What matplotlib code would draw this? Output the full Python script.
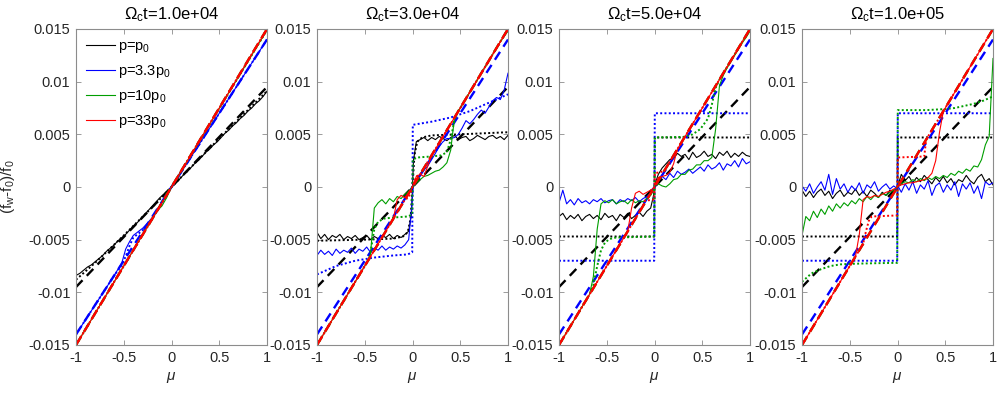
import matplotlib
matplotlib.use("Agg")
import matplotlib.pyplot as plt

plt.rcParams['font.family'] = ['Liberation Sans', 'DejaVu Sans']
plt.rcParams['mathtext.fontset'] = 'custom'
plt.rcParams['mathtext.rm'] = 'Liberation Sans'
plt.rcParams['mathtext.it'] = 'Liberation Sans:italic'

# all values in units of 1e-3
titles = ['1.0e+04', '3.0e+04', '5.0e+04', '1.0e+05']
labels = ['p=p$_0$', 'p=3.3p$_0$', 'p=10p$_0$', 'p=33p$_0$']
colors = ['k', 'b', (0, 0.62, 0), 'r']

mu_g = [-1.00, -0.96, -0.92, -0.88, -0.84, -0.80, -0.76, -0.72, -0.68, -0.64, -0.60, -0.56, -0.52,
        -0.48, -0.44, -0.40, -0.36, -0.32, -0.28, -0.24, -0.20, -0.16, -0.12, -0.08, -0.04, -0.01,
        0.01, 0.04, 0.08, 0.12, 0.16, 0.20, 0.24, 0.28, 0.32, 0.36, 0.40, 0.44, 0.48, 0.52,
        0.56, 0.60, 0.64, 0.68, 0.72, 0.76, 0.80, 0.84, 0.88, 0.92, 0.96, 1.00]
mu_step = [-1, -0.003, 0.003, 1]

# dashed reference lines (same in every panel)
mu_dash = [-1, 1]
dash_black = [-9.5, 9.5]
dash_blue = [-14.0, 14.0]
dash_green = [-15.0, 15.0]
dash_red = [-15.0, 15.0]

# ---- panel 1 : t = 1e4
t1_black = [-8.4, -8.2, -7.9, -7.6, -7.4, -7.1, -6.8, -6.5, -6.1, -5.8, -5.5, -5.1, -4.8,
            -4.5, -4.1, -3.7, -3.4, -3.0, -2.6, -2.2, -1.8, -1.4, -1.0, -0.7, -0.35, -0.1,
            0.1, 0.35, 0.7, 1.1, 1.4, 1.8, 2.2, 2.5, 2.9, 3.3, 3.6, 4.0, 4.3,
            4.7, 5.1, 5.4, 5.8, 6.1, 6.5, 6.8, 7.2, 7.5, 7.9, 8.2, 8.6, 9.1]
mu_t1_blue = [-1, -0.6, -0.52, -0.48, -0.44, -0.4, -0.3, -0.2, -0.1, 0, 1]
t1_blue = [-14.0, -8.4, -7.2, -5.9, -5.2, -4.6, -3.9, -2.9, -1.4, 0, 14.0]
mu_t1_green = [-1, -0.15, -0.1, -0.05, 0, 1]
t1_green = [-15.0, -2.25, -1.8, -1.0, 0, 14.9]
t1_red = [-15.0, 15.0]
mu_t1_black_dot = [-1, -0.8, -0.5, -0.2, 0, 0.5, 1]
t1_black_dot = [-8.8, -7.2, -4.6, -1.9, 0, 4.6, 9.1]
t1_blue_dot = [-14.0, -8.4, -7.4, -6.6, -5.6, -4.8, -4.1, -3.0, -1.5, 0, 14.0]
mu_t1_green_dot = [-1, -0.1, -0.05, 0, 1]
t1_green_dot = [-15.0, -1.5, -0.6, 0, 14.9]
t1_red_dot = [-15.0, 15.0]

# ---- panel 2 : t = 3e4
t2_black = [-4.3, -4.9, -4.5, -5.0, -4.6, -4.8, -4.5, -5.0, -4.7, -4.9, -4.6, -5.0, -4.8,
            -4.6, -5.0, -4.7, -4.9, -4.6, -4.8, -4.5, -4.9, -4.6, -4.8, -4.5, -4.2, -2.5,
            2.5, 4.3, 4.5, 4.7, 4.4, 4.7, 4.5, 4.8, 4.6, 4.4, 4.7, 4.9, 4.5,
            4.7, 4.8, 4.4, 4.6, 4.9, 4.7, 4.5, 4.8, 4.9, 4.6, 4.8, 4.5, 4.9]
t2_blue = [-6.5, -6.0, -6.4, -6.1, -6.5, -5.9, -6.3, -6.0, -6.2, -5.8, -6.3, -5.9, -6.1,
           -5.7, -6.2, -5.8, -6.0, -5.6, -6.0, -5.7, -5.9, -5.6, -5.8, -5.5, -5.0, -2.0,
           0.2, 0.6, 1.2, 1.6, 2.0, 2.6, 3.2, 3.9, 4.3, 4.6, 4.6, 4.7, 5.0,
           5.6, 6.3, 6.0, 6.4, 6.9, 7.3, 7.0, 7.6, 8.2, 8.5, 8.3, 9.2, 10.8]
t2_green = [-15.0, -14.4, -13.8, -13.2, -12.6, -12.0, -11.4, -10.8, -10.2, -9.6, -9.0, -8.4, -7.8,
            -7.2, -6.4, -2.0, -1.5, -1.2, -1.6, -1.1, -1.4, -0.9, -1.1, -0.7, -0.4, -0.1,
            0.1, 0.4, 0.7, 1.0, 1.1, 1.3, 1.5, 1.6, 1.9, 2.3, 3.5, 6.6, 7.2,
            7.8, 8.4, 9.0, 9.6, 10.2, 10.8, 11.4, 12.0, 12.6, 13.2, 13.8, 14.3, 14.8]
mu_t2_red = [-1, -0.2, -0.16, -0.12, -0.08, -0.04, -0.01, 0.01, 0.04, 0.08, 0.12, 0.16, 0.2, 1]
t2_red = [-15.0, -3.0, -1.2, -0.8, -1.0, -0.6, -0.2, 0.3, 1.0, 1.2, 1.0, 2.0, 3.0, 15.0]
mu_t2_black_dot = [-1, -0.5, -0.2, -0.1, -0.05, -0.02, 0, 0.02, 0.05, 0.1, 0.2, 0.5, 1]
t2_black_dot = [-5.1, -5.0, -4.9, -4.7, -4.3, -3.0, 0, 3.0, 4.3, 4.7, 4.9, 5.0, 5.2]
mu_t2_blue_dot = [-1, -0.8, -0.6, -0.4, -0.2, -0.05, -0.003, 0.003, 0.2, 0.4, 0.6, 0.8, 1]
t2_blue_dot = [-8.3, -7.5, -7.0, -6.7, -6.5, -6.4, -6.2, 5.9, 6.2, 6.6, 7.2, 8.0, 8.8]
mu_t2_green_dot = [-1, -0.45, -0.4, -0.36, -0.3, -0.2, -0.05, -0.003, 0.003, 0.05, 0.2, 0.3,
                   0.36, 0.4, 0.44, 0.48, 1]
t2_green_dot = [-15.0, -6.75, -4.0, -3.3, -3.0, -2.9, -2.8, -2.6, 2.6, 2.8, 2.9, 3.0,
                3.3, 4.5, 6.4, 7.2, 15.0]
mu_t2_red_dot = [-1, -0.12, -0.08, -0.04, 0, 0.04, 0.08, 0.12, 1]
t2_red_dot = [-15.0, -1.8, -1.2, -1.0, 0, 1.0, 1.2, 1.8, 15.0]

# ---- panel 3 : t = 5e4
t3_black = [-2.8, -2.5, -3.1, -2.7, -3.0, -2.6, -3.2, -2.8, -2.6, -3.0, -2.7, -3.1, -2.5,
            -2.9, -2.7, -3.2, -2.6, -2.9, -2.5, -3.0, -2.7, -2.4, -2.8, -2.3, -2.0, -0.8,
            0.4, 1.2, 1.8, 2.2, 2.6, 2.7, 3.2, 2.9, 3.1, 2.6, 3.3, 2.8, 3.0,
            3.4, 2.9, 3.1, 2.7, 3.3, 3.0, 3.4, 2.8, 3.2, 2.9, 3.3, 3.0, 2.9]
t3_blue = [-1.5, -0.3, -1.6, -1.2, -1.7, -1.1, -1.5, -1.3, -1.6, -1.2, -1.4, -1.1, -1.5,
           -1.3, -1.2, -1.6, -1.2, -1.4, -1.1, -1.3, -1.0, -1.4, -1.1, -0.9, -0.6, -0.2,
           0.2, 0.6, 1.0, 0.7, 1.3, 0.9, 1.5, 1.2, 1.4, 1.7, 1.3, 1.6, 1.9,
           1.5, 2.1, 1.7, 1.9, 2.3, 1.6, 2.2, 2.0, 2.5, 1.9, 2.7, 2.2, 2.4]
t3_green = [-15.0, -14.4, -13.8, -13.2, -12.6, -12.0, -11.4, -10.8, -10.2, -8.5, -4.0, -1.6, -1.3,
            -1.5, -1.2, -1.6, -1.4, -1.3, -1.6, -1.2, -1.5, -1.3, -1.4, -1.1, -0.8, -0.3,
            0.2, 0.3, 0.1, 0.0, 0.3, 0.7, 0.8, 1.2, 1.2, 1.6, 1.7, 2.1, 2.1,
            2.5, 2.5, 2.8, 5.5, 9.6, 10.6, 11.3, 11.9, 12.5, 13.1, 13.7, 14.2, 14.8]
mu_t3_red = [-1, -0.28, -0.24, -0.2, -0.16, -0.12, -0.08, -0.04, -0.01, 0.01, 0.04, 0.08,
             0.12, 0.16, 0.2, 0.24, 1]
t3_red = [-15.0, -4.2, -2.0, -0.6, -0.4, -0.7, -0.5, -0.3, -0.1, 0.3, 0.9, 1.0,
          1.1, 1.4, 2.2, 3.6, 15.0]
t3_black_dot = [-4.7, -4.7, 4.7, 4.7]
t3_blue_dot = [-7.0, -7.0, 7.0, 7.0]
mu_t3_green_dot = [-1, -0.68, -0.64, -0.6, -0.56, -0.52, -0.48, -0.44, -0.4, -0.003, 0.003,
                   0.3, 0.4, 0.48, 0.56, 0.6, 0.64, 0.68, 1]
t3_green_dot = [-15.0, -10.2, -9.3, -7.5, -6.0, -5.3, -5.0, -4.85, -4.8, -4.7, 4.7,
                4.75, 5.0, 5.5, 6.5, 7.8, 9.4, 10.2, 15.0]
mu_t3_red_dot = [-1, -0.12, -0.1, -0.003, 0.003, 0.1, 0.12, 1]
t3_red_dot = [-15.0, -1.8, -1.3, -1.2, 1.3, 1.5, 1.8, 15.0]

# ---- panel 4 : t = 1e5
t4_black = [-0.3, -0.9, -0.4, -1.0, -0.5, -0.2, -0.8, -0.4, -1.1, -0.6, -0.3, -0.9, -0.5,
            -0.7, -0.2, -0.8, -0.4, -0.9, -0.3, -0.6, -1.0, -0.5, -0.8, -0.3, -0.5, -0.2,
            0.3, 1.2, 0.6, 1.0, 0.4, 0.9, 0.5, 1.1, 0.7, 0.3, 0.9, 0.5, 1.0,
            0.4, 0.8, 0.2, 0.7, 0.5, 1.1, 0.6, 0.3, 0.9, 1.2, 0.5, 0.8, 0.2]
t4_blue = [0.1, -0.4, 0.3, -0.6, 0.0, 0.5, -0.3, 1.2, -0.7, 0.8, -0.2, 0.3, -0.5,
           0.1, -0.3, 0.4, -0.6, 0.2, -0.1, 0.5, -0.4, 0.0, 0.3, -0.2, 0.1, -0.1,
           0.0, -0.5, 0.3, -0.3, 0.5, -0.6, 0.2, -0.2, 0.6, -0.8, 0.1, 0.4, -0.5,
           0.2, -0.3, 0.5, -0.9, 0.3, -0.2, 0.4, -0.6, 0.1, -1.1, 0.5, 0.2, 0.4]
t4_green = [-4.6, -2.8, -3.2, -2.3, -2.9, -2.1, -2.6, -1.8, -2.3, -1.6, -2.0, -1.5, -1.8,
            -1.3, -1.6, -1.1, -1.4, -0.9, -1.2, -0.8, -1.0, -0.6, -0.8, -0.5, -0.3, -0.1,
            0.1, 0.3, 0.5, 0.4, 0.7, 0.5, 0.8, 0.6, 0.9, 0.7, 1.0, 0.8, 1.1,
            0.9, 1.3, 1.1, 1.5, 1.3, 1.7, 1.5, 2.0, 1.9, 2.6, 4.0, 4.8, 12.2]
mu_t4_red = [-1, -0.44, -0.4, -0.36, -0.32, -0.28, -0.24, -0.2, -0.16, -0.12, -0.08, -0.04,
             -0.01, 0.01, 0.04, 0.08, 0.12, 0.16, 0.2, 0.24, 0.28, 0.32, 0.36, 0.4, 0.44,
             0.48, 0.52, 1]
t4_red = [-15.0, -6.6, -4.5, -1.2, -0.9, -1.0, -0.8, -0.9, -0.7, -0.5, -0.4, -0.2,
          -0.1, 0.1, 0.2, 0.3, 0.4, 0.4, 0.5, 0.6, 0.7, 0.9, 1.3, 2.5, 5.2,
          7.2, 7.8, 15.0]
t4_black_dot = [-4.7, -4.7, 4.7, 4.7]
t4_blue_dot = [-7.0, -7.0, 7.0, 7.0]
mu_t4_green_dot = [-1, -0.9, -0.8, -0.7, -0.6, -0.5, -0.3, -0.003, 0.003, 0.3, 0.5, 0.6,
                   0.7, 0.8, 0.9, 1]
t4_green_dot = [-9.0, -8.2, -7.8, -7.5, -7.35, -7.3, -7.25, -7.2, 7.3, 7.3, 7.4, 7.5,
                7.7, 7.9, 8.2, 8.6]
mu_t4_red_dot = [-1, -0.36, -0.33, -0.3, -0.27, -0.003, 0.003, 0.28, 0.3, 1]
t4_red_dot = [-15.0, -5.4, -4.2, -3.2, -2.8, -2.7, 2.8, 2.9, 4.5, 15.0]

# (mu, values) per colour for solid and dotted curves of every panel
panels = [
    ([(mu_g, t1_black), (mu_t1_blue, t1_blue), (mu_t1_green, t1_green), (mu_dash, t1_red)],
     [(mu_t1_black_dot, t1_black_dot), (mu_t1_blue, t1_blue_dot),
      (mu_t1_green_dot, t1_green_dot), (mu_dash, t1_red_dot)]),
    ([(mu_g, t2_black), (mu_g, t2_blue), (mu_g, t2_green), (mu_t2_red, t2_red)],
     [(mu_t2_black_dot, t2_black_dot), (mu_t2_blue_dot, t2_blue_dot),
      (mu_t2_green_dot, t2_green_dot), (mu_t2_red_dot, t2_red_dot)]),
    ([(mu_g, t3_black), (mu_g, t3_blue), (mu_g, t3_green), (mu_t3_red, t3_red)],
     [(mu_step, t3_black_dot), (mu_step, t3_blue_dot),
      (mu_t3_green_dot, t3_green_dot), (mu_t3_red_dot, t3_red_dot)]),
    ([(mu_g, t4_black), (mu_g, t4_blue), (mu_g, t4_green), (mu_t4_red, t4_red)],
     [(mu_step, t4_black_dot), (mu_step, t4_blue_dot),
      (mu_t4_green_dot, t4_green_dot), (mu_t4_red_dot, t4_red_dot)]),
]
dashed = [dash_black, dash_blue, dash_green, dash_red]

fig = plt.figure(figsize=(10.08, 3.94), dpi=100)
lefts = [76, 317, 559, 802]
spine_col = '#8c8c8c'
text_col = '#262626'

for i, (solids, dots) in enumerate(panels):
    ax = fig.add_axes([lefts[i] / 1008, 0.1244, 191 / 1008, 0.802])
    for c in range(4):
        mu_s, val_s = solids[c]
        ax.plot(mu_s, [v * 1e-3 for v in val_s], color=colors[c], lw=0.8,
                label=labels[c] if i == 0 else None)
        mu_d, val_d = dots[c]
        ax.plot(mu_d, [v * 1e-3 for v in val_d], color=colors[c], lw=1.4, ls=(0, (1, 1.2)))
        ax.plot(mu_dash, [v * 1e-3 for v in dashed[c]], color=colors[c], lw=1.7,
                ls=(0, (4, 2.6)))

    ax.set_xlim(-1, 1)
    ax.set_ylim(-0.015, 0.015)
    ax.set_xticks([-1, -0.5, 0, 0.5, 1])
    ax.set_xticklabels(['-1', '-0.5', '0', '0.5', '1'])
    ax.set_yticks([-0.015, -0.01, -0.005, 0, 0.005, 0.01, 0.015])
    ax.set_yticklabels(['-0.015', '-0.01', '-0.005', '0', '0.005', '0.01', '0.015'])
    ax.tick_params(direction='in', length=3.5, width=0.6, top=True, right=True,
                   labelsize=10.5, colors=spine_col, labelcolor=text_col, pad=4)
    for s in ax.spines.values():
        s.set_color(spine_col)
        s.set_linewidth(0.8)
    ax.set_title(r'$\Omega_{\mathrm{c}}$t=' + titles[i], fontsize=12, color='black', pad=7)
    ax.set_xlabel(r'$\mu$', fontsize=11, color=text_col)
    if i == 0:
        ax.set_ylabel('(f$_{\\mathrm{w}}$-f$_0$)/f$_0$', fontsize=11, color=text_col)
        ax.yaxis.set_label_coords(-0.31, 0.5)
        ax.legend(loc='upper left', frameon=False, fontsize=10.5, handlelength=2.0,
                  handletextpad=0.2, labelspacing=0.55, borderaxespad=0.3)

fig.savefig('out.png', dpi=100)
